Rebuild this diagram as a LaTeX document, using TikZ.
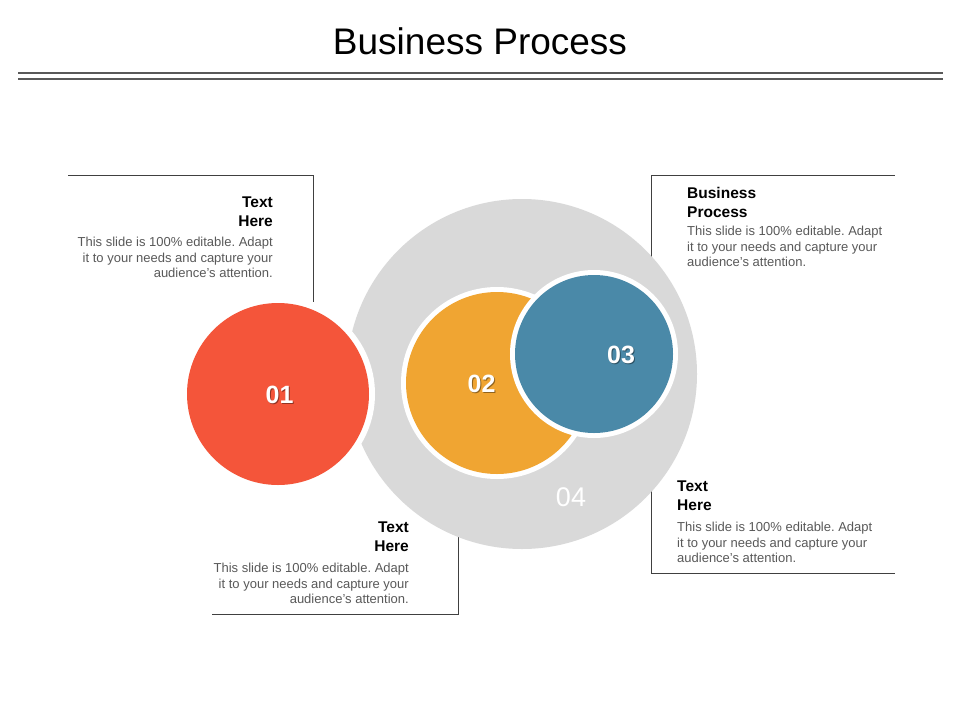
\documentclass[tikz,border=0pt]{standalone}
\usepackage{fontspec}
\setmainfont{Liberation Sans}
\frenchspacing
\definecolor{redc}{HTML}{F4553A}
\definecolor{orangec}{HTML}{F0A532}
\definecolor{bluec}{HTML}{4A89A8}
\definecolor{grayc}{HTML}{D9D9D9}
\definecolor{bodyc}{HTML}{595959}
\definecolor{linec}{HTML}{404040}
\definecolor{rulec}{HTML}{595959}
\tikzset{
  headtxt/.style={font=\fontsize{15.5}{19}\selectfont\bfseries, inner sep=0pt, text=black},
  bodytxt/.style={font=\fontsize{13}{15.9}\selectfont, inner sep=0pt, text=bodyc},
  numtxt/.style={font=\fontsize{25}{30}\selectfont\bfseries, text=white, inner sep=0pt},
  numshadow/.style={font=\fontsize{25}{30}\selectfont\bfseries, text=black, opacity=0.4, inner sep=0pt},
  frameline/.style={draw=linec, line width=0.9pt},
  ruleline/.style={draw=rulec, line width=1.2pt},
}
\begin{document}
\begin{tikzpicture}[x=1pt,y=-1pt]
\useasboundingbox[fill=white] (0,0) rectangle (960,720);
% title
\node[font=\fontsize{37}{40}\selectfont, inner sep=0pt, anchor=base] (title) at (480,54) {Business Process};
\draw[ruleline] (18,73) -- (943,73);
\draw[ruleline] (18,79) -- (943,79);
% frames
\draw[frameline] (68,175) -- (313,175) -- (313,302);
\draw[frameline] (651,175) -- (895,175);
\draw[frameline] (651,175) -- (651,262);
\draw[frameline] (458,530) -- (458,614) -- (212,614);
\draw[frameline] (651,485) -- (651,573) -- (895,573);
% circles
\coordinate (cg) at (522,374);
\coordinate (cr) at (278,394);
\coordinate (co) at (497,383);
\coordinate (cb) at (594,354);
\fill[grayc] (cg) circle[radius=175pt];
\fill[white] (cr) circle[radius=97pt];
\fill[redc] (cr) circle[radius=91pt];
\fill[white] (co) circle[radius=96pt];
\fill[orangec] (co) circle[radius=91pt];
\fill[white] (cb) circle[radius=84pt];
\fill[bluec] (cb) circle[radius=79pt];
% numbers
\node[numshadow] (n1s) at (280.5,395.5) {01};
\node[numtxt] (n1) at (279.5,394.5) {01};
\node[numshadow] (n2s) at (482.5,384.5) {02};
\node[numtxt] (n2) at (481.5,383.5) {02};
\node[numshadow] (n3s) at (622,355.5) {03};
\node[numtxt] (n3) at (621,354.5) {03};
\node[font=\fontsize{27}{30}\selectfont, text=white, inner sep=0pt] (n4) at (571,497) {04};
% texts
\node[headtxt, anchor=north east, align=right] (h1) at (273,197) {Text\\Here};
\node[bodytxt, anchor=north east, align=right] (b1) at (273,236.5) {This slide is 100\% editable. Adapt\\it to your needs and capture your\\audience's attention.};
\node[headtxt, anchor=north west, align=left] (h2) at (687,187) {Business\\Process};
\node[bodytxt, anchor=north west, align=left] (b2) at (687,225.5) {This slide is 100\% editable. Adapt\\it to your needs and capture your\\audience's attention.};
\node[headtxt, anchor=north east, align=right] (h3) at (409,522) {Text\\Here};
\node[bodytxt, anchor=north east, align=right] (b3) at (409,562.5) {This slide is 100\% editable. Adapt\\it to your needs and capture your\\audience's attention.};
\node[headtxt, anchor=north west, align=left] (h4) at (677,481) {Text\\Here};
\node[bodytxt, anchor=north west, align=left] (b4) at (677,521.5) {This slide is 100\% editable. Adapt\\it to your needs and capture your\\audience's attention.};
\end{tikzpicture}
\end{document}
